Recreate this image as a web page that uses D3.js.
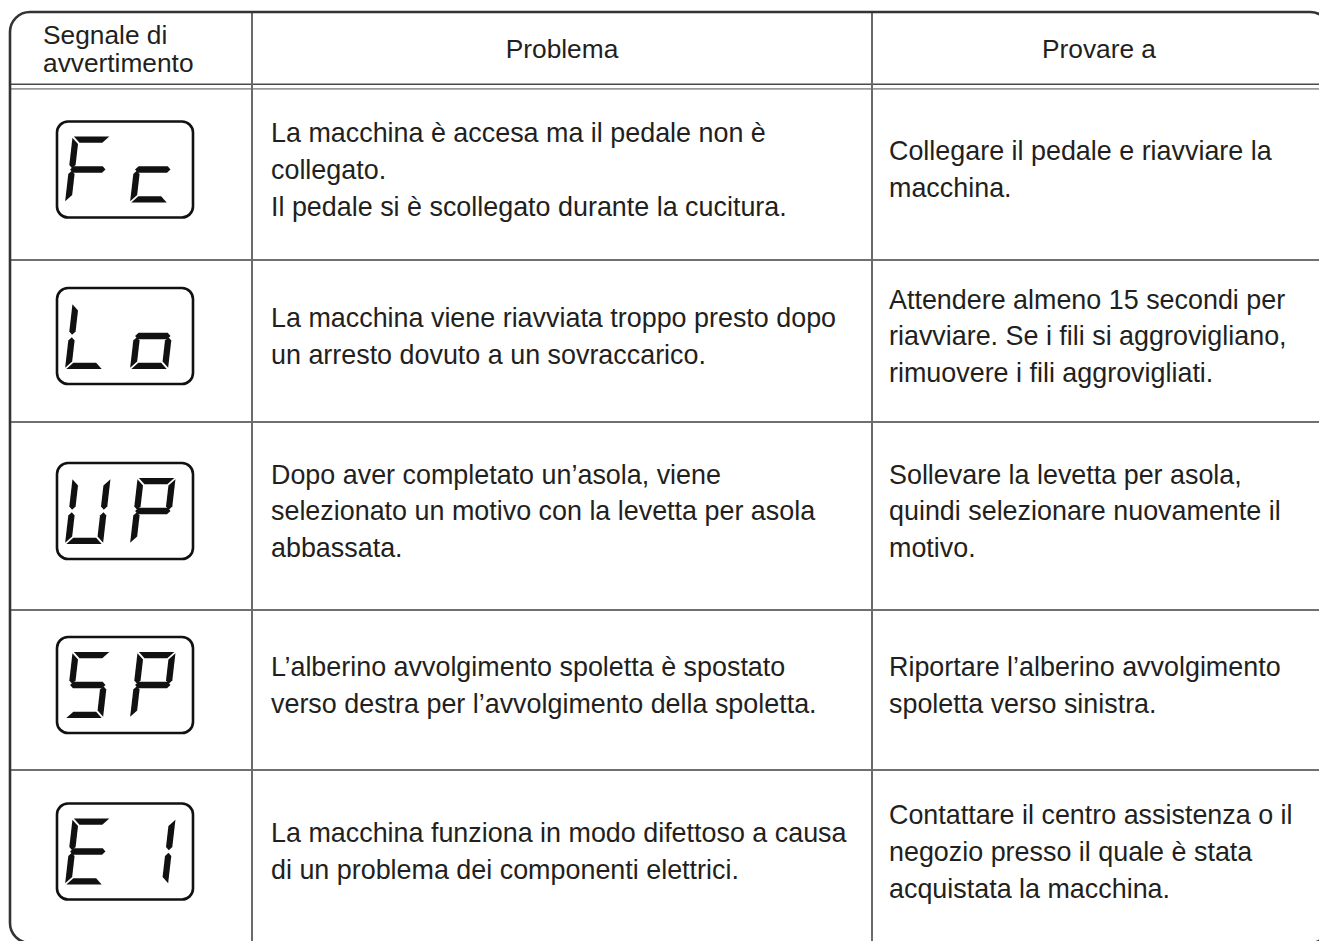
<!DOCTYPE html>
<html>
<head>
<meta charset="utf-8">
<script src="https://cdn.jsdelivr.net/npm/d3@7"></script>
<style>
  html, body { margin: 0; padding: 0; background: #fff; }
  svg { display: block; }
  text { font-family: "Liberation Sans", Arial, Helvetica, sans-serif; fill: #231f20; }
</style>
</head>
<body>
<svg id="chart" width="1319" height="941"></svg>
<script>
// ---------- data ----------
const headers = [["Segnale di", "avvertimento"], ["Problema"], ["Provare a"]];
const signals = ["Fc", "Lo", "UP", "SP", "E1"];
const problems = [
  ["La macchina è accesa ma il pedale non è", "collegato.", "Il pedale si è scollegato durante la cucitura."],
  ["La macchina viene riavviata troppo presto dopo", "un arresto dovuto a un sovraccarico."],
  ["Dopo aver completato un’asola, viene", "selezionato un motivo con la levetta per asola", "abbassata."],
  ["L’alberino avvolgimento spoletta è spostato", "verso destra per l’avvolgimento della spoletta."],
  ["La macchina funziona in modo difettoso a causa", "di un problema dei componenti elettrici."]
];
const remedies = [
  ["Collegare il pedale e riavviare la", "macchina."],
  ["Attendere almeno 15 secondi per", "riavviare. Se i fili si aggrovigliano,", "rimuovere i fili aggrovigliati."],
  ["Sollevare la levetta per asola,", "quindi selezionare nuovamente il", "motivo."],
  ["Riportare l’alberino avvolgimento", "spoletta verso sinistra."],
  ["Contattare il centro assistenza o il", "negozio presso il quale è stata", "acquistata la macchina."]
];
// seven-segment glyph definitions (segments lit)
const glyphSegments = {
  "F": "afeg", "c": "ged", "L": "fed", "o": "gcde",
  "U": "bcdef", "P": "abefg", "S": "afgcd", "E": "afged", "1": "bc"
};

// ---------- layout ----------
const W = 1319, H = 941;
const svg = d3.select("#chart");
const colEdges = [10, 252, 872, 1330];
const headerBottom = 89;
const rowEdges = [headerBottom, 260, 422, 610, 770, 943];
const fontSize = 26.9, lineH = 36.8;

const rowIdx = d3.range(signals.length);
const yTop = d3.scaleOrdinal().domain(rowIdx).range(rowEdges.slice(0, -1));
const yBot = d3.scaleOrdinal().domain(rowIdx).range(rowEdges.slice(1));
const rowCenter = i => (yTop(i) + yBot(i)) / 2 - 5;

// row dividers
svg.selectAll("line.rowdiv").data(rowIdx.slice(1)).join("line")
  .attr("class", "rowdiv")
  .attr("x1", colEdges[0]).attr("x2", W)
  .attr("y1", d => yTop(d)).attr("y2", d => yTop(d))
  .attr("stroke", "#707070").attr("stroke-width", 2);

// header double line
svg.append("line").attr("x1", colEdges[0]).attr("x2", W).attr("y1", 84.3).attr("y2", 84.3)
  .attr("stroke", "#4a4a4a").attr("stroke-width", 1.5);
svg.append("line").attr("x1", colEdges[0]).attr("x2", W).attr("y1", 88.8).attr("y2", 88.8)
  .attr("stroke", "#9a9a9a").attr("stroke-width", 1.8);

// column lines
svg.selectAll("line.coldiv").data(colEdges.slice(1, 3)).join("line")
  .attr("class", "coldiv")
  .attr("x1", d => d).attr("x2", d => d)
  .attr("y1", 12).attr("y2", H)
  .attr("stroke", "#6a6a6a").attr("stroke-width", 2);

// outer border
svg.append("rect").attr("x", 10).attr("y", 12).attr("width", 1320).attr("height", 931)
  .attr("rx", 20).attr("ry", 20).attr("fill", "none")
  .attr("stroke", "#333").attr("stroke-width", 2.6);

// header text
svg.append("text").attr("x", 43).attr("font-size", 26.3)
  .selectAll("tspan").data(headers[0]).join("tspan")
  .attr("x", 43).attr("y", (d, i) => 44 + i * 28).text(d => d);
svg.append("text").attr("x", (colEdges[1] + colEdges[2]) / 2).attr("y", 58)
  .attr("text-anchor", "middle").attr("font-size", 26.3).text(headers[1][0]);
svg.append("text").attr("x", 1099).attr("y", 58)
  .attr("text-anchor", "middle").attr("font-size", 26.3).text(headers[2][0]);

// body text
function drawLines(lines, x, i) {
  const n = lines.length;
  const c = rowCenter(i);
  const g = svg.append("text").attr("font-size", fontSize);
  g.selectAll("tspan").data(lines).join("tspan")
    .attr("x", x)
    .attr("y", (d, k) => c + (k - (n - 1) / 2) * lineH + 9.3)
    .text(d => d);
}
rowIdx.forEach(i => {
  drawLines(problems[i], colEdges[1] + 19, i);
  drawLines(remedies[i], colEdges[2] + 17, i);
});

// seven-segment displays
const DW = 38, DH = 66, T = 6.3, G = 1.3, SK = 0.115, m = DH / 2;
const segPolys = {
  a: [[G, 0], [DW - G, 0], [DW - G - T, T], [G + T, T]],
  d: [[G + T, DH - T], [DW - G - T, DH - T], [DW - G, DH], [G, DH]],
  f: [[0, G], [T, G + T], [T, m - T / 2 - G], [T / 2, m - G], [0, m - T / 2 - G]],
  e: [[0, m + T / 2 + G], [T / 2, m + G], [T, m + T / 2 + G], [T, DH - G - T], [0, DH - G]],
  b: [[DW, G], [DW, m - T / 2 - G], [DW - T / 2, m - G], [DW - T, m - T / 2 - G], [DW - T, G + T]],
  c: [[DW - T / 2, m + G], [DW, m + T / 2 + G], [DW, DH - G], [DW - T, DH - G - T], [DW - T, m + T / 2 + G]],
  g: [[G, m], [G + T / 2, m - T / 2], [DW - G - T / 2, m - T / 2], [DW - G, m], [DW - G - T / 2, m + T / 2], [G + T / 2, m + T / 2]]
};
const boxW = 136, boxH = 96, boxX = 57;
const line = d3.line();
rowIdx.forEach(i => {
  const by = rowCenter(i) - boxH / 2;
  const g = svg.append("g");
  g.append("rect").attr("x", boxX).attr("y", by).attr("width", boxW).attr("height", boxH)
    .attr("rx", 11).attr("ry", 11).attr("fill", "#fff")
    .attr("stroke", "#111").attr("stroke-width", 2.6);
  const chars = signals[i].split("");
  chars.forEach((ch, k) => {
    const x0 = boxX + 8 + k * 65, y0 = by + 15;
    const segs = glyphSegments[ch].split("");
    g.selectAll(null).data(segs).join("path")
      .attr("d", s => line(segPolys[s].map(([x, y]) => [x0 + x + SK * (DH - y), y0 + y])) + "Z")
      .attr("fill", "#111");
  });
});
</script>
</body>
</html>
